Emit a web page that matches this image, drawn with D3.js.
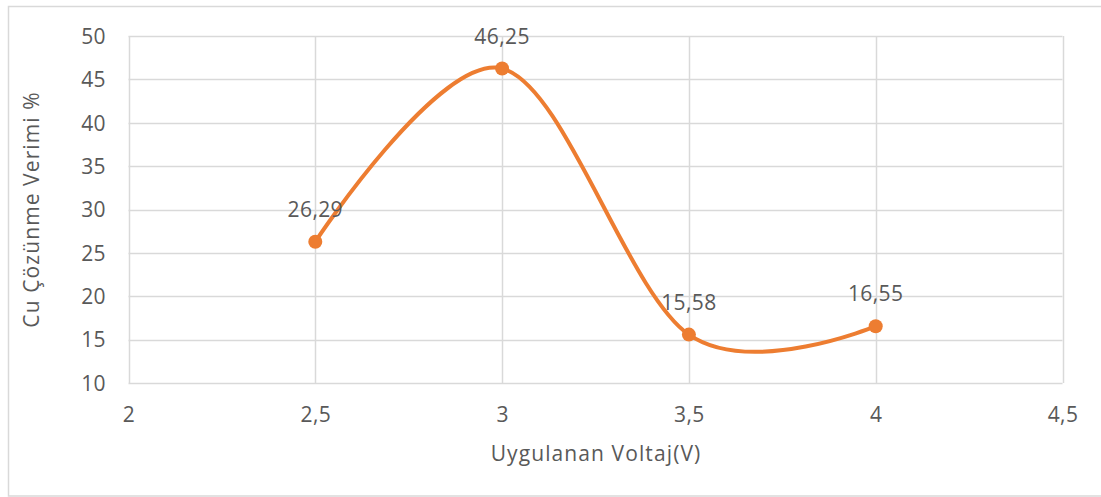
<!DOCTYPE html>
<html>
<head>
<meta charset="utf-8">
<script src="https://cdn.jsdelivr.net/npm/d3@7"></script>
<style>
  html, body { margin: 0; padding: 0; background: #fff; }
  svg { display: block; }
  text { font-family: "Open Sans", "DejaVu Sans", sans-serif; fill: #595959; }
</style>
</head>
<body>
<svg id="chart" width="1101" height="497"></svg>
<script>
// Applied voltage (V) and Cu dissolution efficiency (%)
const voltages = [2.5, 3, 3.5, 4];
const efficiency = [26.29, 46.25, 15.58, 16.55];
const valueLabels = ["26,29", "46,25", "15,58", "16,55"];
const xTicks = [2, 2.5, 3, 3.5, 4, 4.5];
const xTickLabels = ["2", "2,5", "3", "3,5", "4", "4,5"];
const yTicks = [10, 15, 20, 25, 30, 35, 40, 45, 50];
const xTitle = "Uygulanan Voltaj(V)";
const yTitle = "Cu Çözünme Verimi %";

const svg = d3.select("#chart");
const margin = { left: 128.5, right: 1062.5, top: 36, bottom: 383 };
const orange = "#ED7D31";
const grid = "#D9D9D9";
const fontSize = 21;

// outer chart frame
svg.append("rect")
  .attr("x", 8.5).attr("y", 6.5)
  .attr("width", 1200).attr("height", 489.5)
  .attr("fill", "none").attr("stroke", grid).attr("stroke-width", 1.5);

const x = d3.scaleLinear().domain([2, 4.5]).range([margin.left, margin.right]);
const y = d3.scaleLinear().domain([10, 50]).range([margin.bottom, margin.top]);

// gridlines
svg.append("g").selectAll("line.h").data(yTicks).join("line")
  .attr("x1", margin.left).attr("x2", margin.right)
  .attr("y1", d => Math.round(y(d)) + 0.5).attr("y2", d => Math.round(y(d)) + 0.5)
  .attr("stroke", grid).attr("stroke-width", 1.5);
svg.append("g").selectAll("line.v").data(xTicks).join("line")
  .attr("y1", margin.top).attr("y2", margin.bottom)
  .attr("x1", d => Math.round(x(d)) + 0.5).attr("x2", d => Math.round(x(d)) + 0.5)
  .attr("stroke", grid).attr("stroke-width", 1.5);

// axes (labels only)
const yAxis = d3.axisLeft(y).tickValues(yTicks).tickSize(0).tickPadding(0);
const yg = svg.append("g").attr("transform", `translate(106,0)`).call(yAxis);
yg.select(".domain").remove();
yg.selectAll("text").attr("font-size", fontSize).attr("fill", "#595959")
  .style("font-family", '"Open Sans", sans-serif').style("letter-spacing", "0.4px")
  .attr("dy", "0.35em");

const xAxis = d3.axisBottom(x).tickValues(xTicks).tickSize(0).tickPadding(0)
  .tickFormat((d, i) => xTickLabels[i]);
const xg = svg.append("g").attr("transform", `translate(0,422)`).call(xAxis);
xg.select(".domain").remove();
xg.selectAll("text").attr("font-size", fontSize).attr("fill", "#595959")
  .style("font-family", '"Open Sans", sans-serif').style("letter-spacing", "0.4px")
  .attr("dy", 0);

// axis titles
svg.append("text").attr("x", 596).attr("y", 461)
  .attr("text-anchor", "middle").attr("font-size", fontSize)
  .style("letter-spacing", "1.1px").text(xTitle);
svg.append("text")
  .attr("transform", `translate(39,${(margin.top + margin.bottom) / 2}) rotate(-90)`)
  .attr("text-anchor", "middle").attr("font-size", fontSize)
  .style("letter-spacing", "1.1px").text(yTitle);

// smoothed series line
const pts = voltages.map((v, i) => [x(v), y(efficiency[i])]);
svg.append("path")
  .attr("d", d3.line().curve(d3.curveCardinal.tension(0))(pts))
  .attr("fill", "none").attr("stroke", orange).attr("stroke-width", 4)
  .attr("stroke-linecap", "round");

// markers
svg.append("g").selectAll("circle").data(pts).join("circle")
  .attr("cx", d => d[0]).attr("cy", d => d[1]).attr("r", 7)
  .attr("fill", orange);

// value labels
svg.append("g").selectAll("text").data(voltages).join("text")
  .attr("x", d => x(d))
  .attr("y", (d, i) => y(efficiency[i]) - 25)
  .attr("text-anchor", "middle").attr("font-size", fontSize)
  .style("letter-spacing", "0.4px")
  .text((d, i) => valueLabels[i]);
</script>
</body>
</html>
